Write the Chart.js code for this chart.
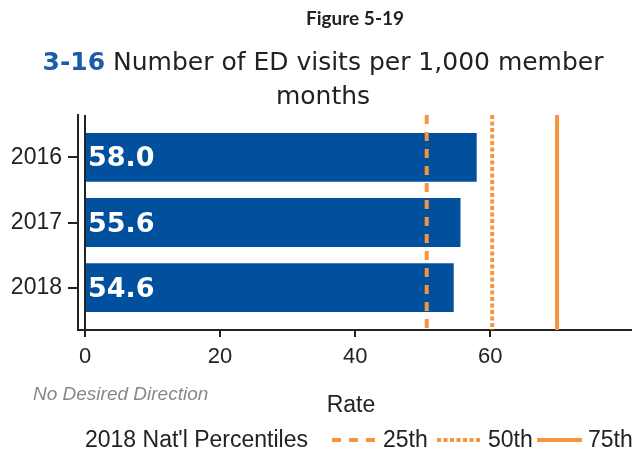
<!DOCTYPE html>
<html>
<head>
<meta charset="utf-8">
<script src="https://cdn.jsdelivr.net/npm/chart.js@4.4.1/dist/chart.umd.min.js"></script>
<style>
    html, body { margin: 0; padding: 0; background: #fff; }
    #wrap { width: 632px; height: 454px; }
</style>
</head>
<body>
<div id="wrap"><canvas id="chart" width="632" height="454"></canvas></div>
<script>
const years = ['2016', '2017', '2018'];
const rates = [58.0, 55.6, 54.6];
const xTicks = [0, 20, 40, 60];
const percentileNames = ['25th', '50th', '75th'];
const percentileValues = [50.6, 60.3, 69.9];

const BLUE = '#00509E';
const ORANGE = '#F7943D';
const INK = '#222222';
const dashes = [[9, 8], [4, 2.5], []];

// vertical lines for the percentiles, spanning the whole y range
const percentileSets = percentileValues.map((v, i) => ({
    type: 'line',
    label: percentileNames[i],
    data: [{ x: v, y: -0.65 }, { x: v, y: 2.65 }],
    borderColor: ORANGE,
    borderWidth: 4,
    borderDash: dashes[i],
    pointRadius: 0,
    order: 0
}));

const decorations = {
    id: 'decorations',
    afterDatasetsDraw(chart) {
        const { ctx } = chart;
        const meta = chart.getDatasetMeta(0);
        ctx.save();
        ctx.fillStyle = '#fff';
        ctx.font = 'bold 27px "DejaVu Sans"';
        ctx.textBaseline = 'middle';
        ctx.textAlign = 'left';
        meta.data.forEach((bar, i) => {
            ctx.fillText(rates[i].toFixed(1), bar.base + 2, bar.y + 2);
        });
        ctx.restore();
    },
    afterDraw(chart) {
        const { ctx } = chart;
        ctx.save();
        ctx.textBaseline = 'alphabetic';

        // Titles
        ctx.fillStyle = INK;
        ctx.textAlign = 'center';
        ctx.font = 'bold 19px Lato';
        ctx.fillText('Figure 5-19', 355, 25);

        const lead = '3-16';
        const rest = ' Number of ED visits per 1,000 member';
        ctx.font = 'bold 25px "DejaVu Sans"';
        const wLead = ctx.measureText(lead).width;
        ctx.font = '25px "DejaVu Sans"';
        const wRest = ctx.measureText(rest).width;
        let x0 = 323 - (wLead + wRest) / 2;
        ctx.textAlign = 'left';
        ctx.font = 'bold 25px "DejaVu Sans"';
        ctx.fillStyle = '#1B5DAA';
        ctx.fillText(lead, x0, 70);
        ctx.font = '25px "DejaVu Sans"';
        ctx.fillStyle = INK;
        ctx.fillText(rest, x0 + wLead, 70);
        ctx.textAlign = 'center';
        ctx.fillText('months', 323, 104);

        // Notes under the axis
        ctx.font = 'italic 19px "Liberation Sans"';
        ctx.fillStyle = '#888888';
        ctx.textAlign = 'left';
        ctx.fillText('No Desired Direction', 33, 400);
        ctx.font = '23px "Liberation Sans"';
        ctx.fillStyle = INK;
        ctx.textAlign = 'center';
        ctx.fillText('Rate', 351, 412);

        // Legend
        const ly = 440;
        ctx.textAlign = 'left';
        ctx.textBaseline = 'middle';
        ctx.fillText("2018 Nat'l Percentiles", 85, ly + 1);
        const starts = [332, 437, 537];
        percentileNames.forEach((name, i) => {
            ctx.strokeStyle = ORANGE;
            ctx.lineWidth = 4;
            ctx.setLineDash(dashes[i]);
            ctx.beginPath();
            ctx.moveTo(starts[i], ly);
            ctx.lineTo(starts[i] + 45, ly);
            ctx.stroke();
            ctx.setLineDash([]);
            ctx.fillStyle = INK;
            ctx.fillText(name, starts[i] + 51, ly + 1);
        });
        ctx.restore();
    }
};

new Chart(document.getElementById('chart'), {
    data: {
        datasets: [{
            type: 'bar',
            label: 'Rate',
            data: rates.map((r, i) => ({ x: r, y: i })),
            backgroundColor: BLUE,
            categoryPercentage: 1,
            barPercentage: 0.75,
            order: 1
        }, ...percentileSets]
    },
    options: {
        indexAxis: 'y',
        responsive: false,
        animation: false,
        layout: { padding: { top: 115, right: 0, left: 0, bottom: 0 } },
        plugins: {
            legend: { display: false },
            tooltip: { enabled: false }
        },
        scales: {
            x: {
                type: 'linear',
                min: -1.04,
                max: 81,
                offset: false,
                afterBuildTicks: (scale) => { scale.ticks = xTicks.map(v => ({ value: v })); },
                afterFit: (scale) => { scale.height = 124; },
                grid: {
                    offset: false,
                    color: (c) => c.tick && c.tick.value === 0 ? INK : 'transparent',
                    lineWidth: 2,
                    tickColor: INK,
                    tickLength: 7
                },
                border: { color: INK, width: 2 },
                ticks: {
                    color: INK,
                    padding: 7,
                    font: { family: 'Liberation Sans', size: 22 }
                }
            },
            y: {
                type: 'linear',
                reverse: true,
                min: -0.65,
                max: 2.65,
                offset: false,
                afterBuildTicks: (scale) => { scale.ticks = years.map((_, i) => ({ value: i })); },
                afterFit: (scale) => { scale.width = 78; },
                grid: {
                    offset: false,
                    drawOnChartArea: false,
                    tickColor: INK,
                    tickLength: 10,
                    lineWidth: 2
                },
                border: { color: INK, width: 2 },
                ticks: {
                    color: INK,
                    padding: 6,
                    callback: (v) => years[v],
                    font: { family: 'Liberation Sans', size: 23 }
                }
            }
        }
    },
    plugins: [decorations]
});
</script>
</body>
</html>
